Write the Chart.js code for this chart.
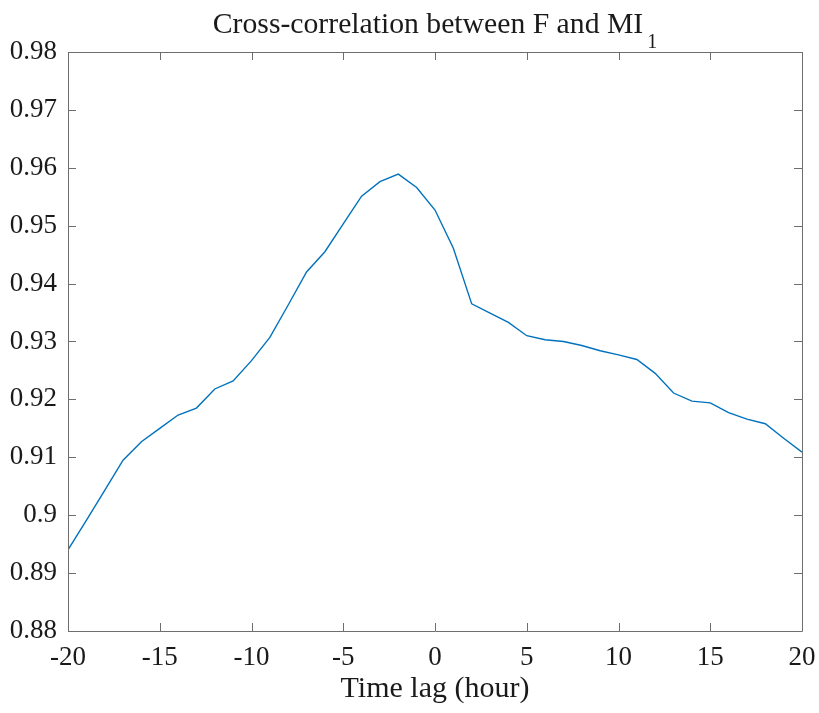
<!DOCTYPE html>
<html><head><meta charset="utf-8">
<script src="https://cdn.jsdelivr.net/npm/chart.js@4/dist/chart.umd.min.js"></script>
<style>html,body{margin:0;padding:0;background:#fff;}#wrap{width:819px;height:713px;}</style>
</head><body><div id="wrap"><canvas id="c" width="819" height="713"></canvas></div>
<script>
const lags = [-20,-19,-18,-17,-16,-15,-14,-13,-12,-11,-10,-9,-8,-7,-6,-5,-4,-3,-2,-1,0,1,2,3,4,5,6,7,8,9,10,11,12,13,14,15,16,17,18,19,20];
const xcorr = [0.8940,0.8991,0.9043,0.9095,0.9127,0.9150,0.9173,0.9185,0.9218,0.9232,0.9267,0.9307,0.9363,0.9420,0.9455,0.9503,0.9551,0.9576,0.9589,0.9566,0.9527,0.9461,0.9365,0.9349,0.9333,0.9310,0.9303,0.9300,0.9293,0.9284,0.9277,0.9269,0.9245,0.9211,0.9197,0.9194,0.9177,0.9166,0.9158,0.9133,0.9109];
const xTickValues = [-20,-15,-10,-5,0,5,10,15,20];
const yTickValues = [0.88,0.89,0.90,0.91,0.92,0.93,0.94,0.95,0.96,0.97,0.98];
const yTickLabels = ['0.88','0.89','0.9','0.91','0.92','0.93','0.94','0.95','0.96','0.97','0.98'];
const titleMain = 'Cross-correlation between F and MI';
const titleSub = '1';
const xAxisLabel = 'Time lag (hour)';

const FONT = '"Liberation Serif", "Times New Roman", serif';
const TXT = '#1a1a1a';
const AXC = '#6e6e6e';

const boxPlugin = {
  id: 'boxTicks',
  afterDraw(chart) {
    const {ctx, chartArea: a, scales} = chart;
    ctx.save();
    ctx.strokeStyle = AXC;
    ctx.lineWidth = 1;
    ctx.beginPath();
    ctx.rect(Math.round(a.left) + 0.5, Math.round(a.top) + 0.5, Math.round(a.right - a.left), Math.round(a.bottom - a.top));
    const L = 8;
    xTickValues.forEach(v => {
      const x = Math.round(scales.x.getPixelForValue(v)) + 0.5;
      ctx.moveTo(x, a.bottom); ctx.lineTo(x, a.bottom - L);
      ctx.moveTo(x, a.top); ctx.lineTo(x, a.top + L);
    });
    yTickValues.forEach(v => {
      const y = Math.round(scales.y.getPixelForValue(v)) + 0.5;
      ctx.moveTo(a.left, y); ctx.lineTo(a.left + L, y);
      ctx.moveTo(a.right, y); ctx.lineTo(a.right - L, y);
    });
    ctx.stroke();
    // title with subscript
    ctx.fillStyle = TXT;
    ctx.textBaseline = 'alphabetic';
    ctx.textAlign = 'left';
    ctx.font = '29.7px ' + FONT;
    const wMain = ctx.measureText(titleMain).width;
    ctx.font = '20px ' + FONT;
    const wSub = ctx.measureText(titleSub).width;
    const gap = 4;
    const cx = (a.left + a.right) / 2;
    const x0 = cx - (wMain + wSub + gap) / 2;
    ctx.font = '29.7px ' + FONT;
    ctx.fillText(titleMain, x0, 33);
    ctx.font = '20px ' + FONT;
    ctx.fillText(titleSub, x0 + wMain + gap, 48);
    ctx.restore();
  }
};

new Chart(document.getElementById('c'), {
  type: 'line',
  data: {
    datasets: [{
      data: lags.map((x, i) => ({x: x, y: xcorr[i]})),
      borderColor: '#0072BD',
      borderWidth: 1.4,
      pointRadius: 0,
      tension: 0,
      fill: false
    }]
  },
  options: {
    responsive: false,
    animation: false,
    layout: {padding: {top: 52, right: 17, left: 0, bottom: 0}},
    plugins: {legend: {display: false}, tooltip: {enabled: false}},
    scales: {
      x: {
        type: 'linear', min: -20, max: 20,
        afterBuildTicks: s => { s.ticks = xTickValues.map(v => ({value: v})); },
        afterFit: s => { s.height = 82; s.paddingLeft = 0; s.paddingRight = 0; },
        grid: {display: false, drawTicks: false},
        border: {display: false},
        ticks: {font: {family: FONT, size: 27}, color: TXT, padding: 11, maxRotation: 0, autoSkip: false},
        title: {display: true, text: xAxisLabel, font: {family: FONT, size: 30}, color: TXT, padding: {top: 0, bottom: 6}}
      },
      y: {
        type: 'linear', min: 0.88, max: 0.98,
        afterBuildTicks: s => { s.ticks = yTickValues.map(v => ({value: v})); },
        afterFit: s => { s.width = 68; s.paddingTop = 0; s.paddingBottom = 0; },
        grid: {display: false, drawTicks: false},
        border: {display: false},
        ticks: {font: {family: FONT, size: 27}, color: TXT, padding: 11, autoSkip: false,
          callback: (v, i) => yTickLabels[i]}
      }
    }
  },
  plugins: [boxPlugin]
});
</script></body></html>
